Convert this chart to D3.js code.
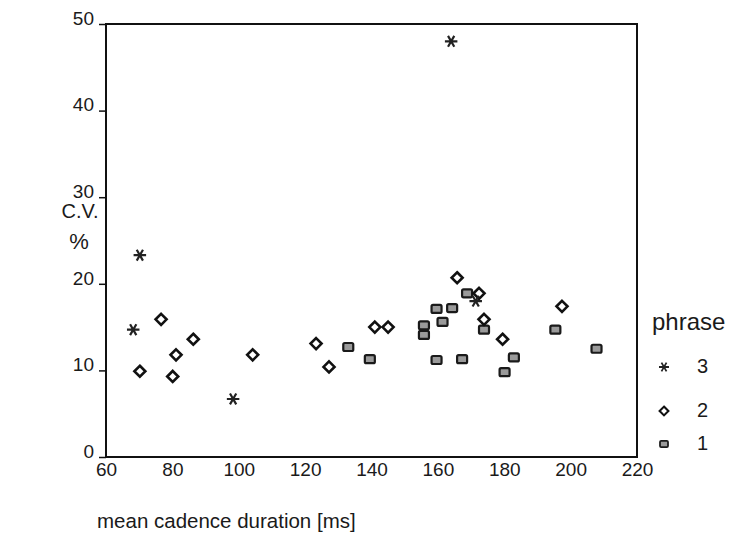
<!DOCTYPE html>
<html lang="en">
<head>
<meta charset="utf-8">
<script src="https://d3js.org/d3.v7.min.js"></script>
<title>cv scatter</title>
<style>
  body { margin: 0; background: #fff; }
  text { font-family: "Liberation Sans", Arial, sans-serif; fill: #1a1a1a; }
</style>
</head>
<body>
<script>
var width = 729, height = 538;

// phrase 3 (asterisks)
var p3x = [70.2, 68.2, 98.3, 164, 171.4];
var p3y = [23.3, 14.7, 6.7, 48, 18.0];
// phrase 2 (diamonds)
var p2x = [76.6, 86.3, 81.1, 70.2, 80.1, 104.2, 123.3, 127.2, 141.0, 145.0, 165.8, 172.4, 173.9, 179.5, 197.4];
var p2y = [15.9, 13.6, 11.8, 9.9, 9.3, 11.8, 13.1, 10.4, 15.0, 15.0, 20.7, 18.9, 15.9, 13.6, 17.4];
// phrase 1 (squares)
var p1x = [133.0, 139.5, 155.8, 155.8, 159.6, 159.6, 161.4, 164.3, 167.3, 168.8, 173.9, 180.1, 182.9, 195.4, 207.8];
var p1y = [12.7, 11.3, 15.2, 14.1, 17.1, 11.2, 15.6, 17.2, 11.3, 18.9, 14.7, 9.8, 11.5, 14.7, 12.5];

var xTicks = [60, 80, 100, 120, 140, 160, 180, 200, 220];
var yTicks = [0, 10, 20, 30, 40, 50];
var legendNames = ["3", "2", "1"];

var svg = d3.select("body").append("svg").attr("width", width).attr("height", height);

var x = d3.scaleLinear().domain([60, 220]).range([106, 637]);
var y = d3.scaleLinear().domain([0, 50]).range([457, 24]);

// frame
svg.append("rect")
   .attr("x", x(60)).attr("y", y(50))
   .attr("width", x(220) - x(60)).attr("height", y(0) - y(50))
   .attr("fill", "none").attr("stroke", "#111").attr("stroke-width", 2);

// y axis
var yAxis = svg.append("g")
   .attr("transform", "translate(" + x(60) + ",0)")
   .call(d3.axisLeft(y).tickValues(yTicks).tickSize(7).tickPadding(5));
yAxis.select(".domain").remove();
yAxis.selectAll("line").attr("stroke", "#111").attr("stroke-width", 1.5);
yAxis.selectAll("text").style("font-size", "19px").attr("dy", "0.02em");

// x axis
var xAxis = svg.append("g")
   .attr("transform", "translate(0," + y(0) + ")")
   .call(d3.axisBottom(x).tickValues(xTicks).tickSize(0).tickPadding(6));
xAxis.select(".domain").remove();
xAxis.selectAll("text").style("font-size", "19px");

// axis titles
svg.append("text").attr("x", 80).attr("y", 218).attr("text-anchor", "middle")
   .style("font-size", "20px").text("C.V.");
svg.append("text").attr("x", 79).attr("y", 249).attr("text-anchor", "middle")
   .style("font-size", "22px").text("%");
svg.append("text").attr("x", 97).attr("y", 528)
   .style("font-size", "20.5px").text("mean cadence duration [ms]");

// markers
function drawStar(g) {
  g.append("path")
   .attr("d", d3.symbol().type(d3.symbolAsterisk).size(110))
   .attr("transform", "rotate(90)")
   .attr("fill", "none").attr("stroke", "#222").attr("stroke-width", 2.2);
}
function drawDiamond(g) {
  g.append("path")
   .attr("d", "M0,-5.5L5.5,0L0,5.5L-5.5,0Z")
   .attr("fill", "#fff").attr("stroke", "#111").attr("stroke-width", 2.6);
}
function drawSquare(g) {
  g.append("rect")
   .attr("x", -5).attr("y", -4).attr("width", 10).attr("height", 8).attr("rx", 1.5)
   .attr("fill", "#9a9a9a").attr("stroke", "#1a1a1a").attr("stroke-width", 2.2);
}

var plot = svg.append("g");
function series(xs, ys, draw, cls) {
  plot.selectAll("." + cls)
      .data(d3.zip(xs, ys))
      .enter()
      .append("g")
      .attr("class", cls)
      .attr("transform", function(d) { return "translate(" + x(d[0]) + "," + y(d[1]) + ")"; })
      .each(function() { draw(d3.select(this)); });
}
series(p1x, p1y, drawSquare, "p1");
series(p2x, p2y, drawDiamond, "p2");
series(p3x, p3y, drawStar, "p3");

// legend
var legend = svg.append("g").attr("transform", "translate(652,0)");
legend.append("text").attr("x", 0).attr("y", 330).style("font-size", "24px").text("phrase");
var draws = [drawStar, drawDiamond, drawSquare];
var rows = legend.selectAll(".row")
   .data(legendNames)
   .enter()
   .append("g")
   .attr("class", "row")
   .attr("transform", function(d, i) { return "translate(0," + [366, 410, 443][i] + ")"; });
rows.each(function(d, i) {
  var m = d3.select(this).append("g").attr("transform", "translate(12,1) scale(0.8)");
  draws[i](m);
});
rows.append("text").attr("x", 45).attr("y", 7).style("font-size", "20px").text(function(d) { return d; });
</script>
</body>
</html>
